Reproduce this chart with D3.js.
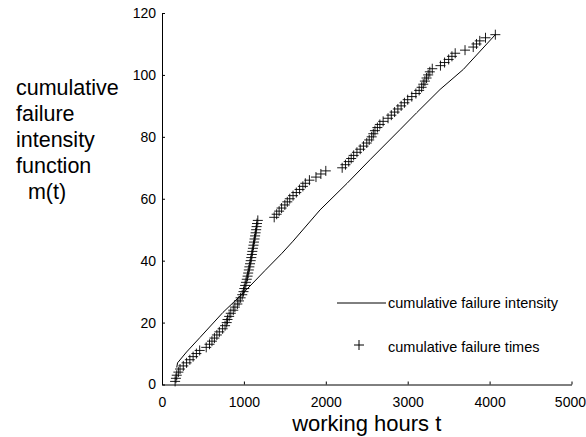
<!DOCTYPE html>
<html>
<head>
<meta charset="utf-8">
<script src="https://cdn.jsdelivr.net/npm/d3@7"></script>
<style>
  body { margin: 0; background: #fff; }
  svg text { font-family: "Liberation Sans", Arial, sans-serif; fill: #000; }
</style>
</head>
<body>
<div id="chart"></div>
<script>
// cumulative failure times (hours) for failure number 1..113
var failureTimes = [
  160, 170, 180, 200, 220, 260, 300, 340, 380, 420,
  460, 540, 580, 610, 640, 670, 700, 740, 770, 790,
  800, 820, 840, 870, 890, 920, 940, 960, 980, 995,
  1005, 1015, 1025, 1035, 1045, 1052, 1060, 1067, 1075, 1083,
  1090, 1097, 1103, 1110, 1117, 1123, 1130, 1137, 1143, 1150,
  1155, 1160, 1170, 1370, 1400, 1430, 1460, 1500, 1530, 1560,
  1600, 1640, 1680, 1720, 1750, 1800, 1880, 1940, 2000, 2200,
  2240, 2280, 2310, 2340, 2380, 2420, 2460, 2500, 2530, 2560,
  2580, 2600, 2630, 2660, 2700, 2760, 2800, 2840, 2880, 2920,
  2960, 3000, 3050, 3100, 3140, 3170, 3190, 3210, 3230, 3250,
  3270, 3300, 3400, 3450, 3500, 3540, 3580, 3700, 3800, 3840,
  3880, 3950, 4070
];
// fitted cumulative failure intensity m(t)
var curveT = [180, 190, 300, 464, 745, 990, 1257, 1465, 1600, 1930, 2260, 2540, 2905, 3110, 3395, 3680, 4070];
var curveM = [5.5, 7, 10.5, 15.2, 23.3, 29.5, 36.8, 42.4, 46.3, 56.4, 65, 72.6, 82.3, 87.8, 95.3, 101.8, 113];

var xTicks = [0, 1000, 2000, 3000, 4000, 5000];
var yTicks = [0, 20, 40, 60, 80, 100, 120];
var yTitle = ["cumulative", "failure", "intensity", "function", "  m(t)"];
var legendLabels = ["cumulative failure intensity", "cumulative failure times"];

var width = 586, height = 437;
var svg = d3.select("#chart").append("svg")
    .attr("width", width)
    .attr("height", height);

var x = d3.scaleLinear().domain([0, 5000]).range([162, 571.5]);
var y = d3.scaleLinear().domain([0, 120]).range([384.5, 13]);

// axes: ticks point inward
var xAxis = svg.append("g")
    .attr("transform", "translate(0," + y(0) + ")")
    .call(d3.axisBottom(x).tickValues(xTicks).tickFormat(d3.format("d"))
      .tickSize(-3).tickPadding(8).tickSizeOuter(0));
var yAxis = svg.append("g")
    .attr("transform", "translate(" + x(0) + ",0)")
    .call(d3.axisLeft(y).tickValues(yTicks).tickFormat(d3.format("d"))
      .tickSize(-3).tickPadding(6).tickSizeOuter(0));

[xAxis, yAxis].forEach(function(a) {
  a.select(".domain").attr("stroke", "#000").attr("stroke-width", 1);
  a.selectAll(".tick line").attr("stroke", "#000");
  a.selectAll(".tick text")
      .style("font-family", "'Liberation Sans', Arial, sans-serif")
      .style("font-size", "14px")
      .attr("fill", "#000");
});
xAxis.selectAll(".tick text").attr("dy", "1em");
// keep the last label inside the window
xAxis.selectAll(".tick text").filter(function(d) { return d === 5000; })
    .attr("text-anchor", "end").attr("dx", "14");

// curve
var line = d3.line()
    .x(function(d) { return x(d[0]); })
    .y(function(d) { return y(d[1]); });
svg.append("path")
    .datum(curveT.map(function(t, i) { return [t, curveM[i]]; }))
    .attr("fill", "none")
    .attr("stroke", "#000")
    .attr("stroke-width", 1)
    .attr("d", line);

// failure points as plus markers
var plus = "M-5,0H5M0,-5V5";
svg.append("g").selectAll("path")
    .data(failureTimes)
    .enter().append("path")
    .attr("transform", function(d, i) { return "translate(" + x(d) + "," + y(i + 1) + ")"; })
    .attr("d", plus)
    .attr("fill", "none")
    .attr("stroke", "#000")
    .attr("stroke-width", 0.9);

// legend
svg.append("line")
    .attr("x1", 337).attr("x2", 386)
    .attr("y1", 303).attr("y2", 303)
    .attr("stroke", "#000");
svg.append("path")
    .attr("transform", "translate(359,345)")
    .attr("d", plus)
    .attr("fill", "none")
    .attr("stroke", "#000");
svg.selectAll(".leg")
    .data(legendLabels)
    .enter().append("text")
    .attr("class", "leg")
    .attr("x", 388)
    .attr("y", function(d, i) { return i === 0 ? 308 : 352; })
    .style("font-size", "14.5px")
    .text(function(d) { return d; });

// axis titles
svg.append("text")
    .attr("x", (x(0) + x(5000)) / 2)
    .attr("y", 431)
    .attr("text-anchor", "middle")
    .style("font-size", "22px")
    .text("working hours t");

svg.append("g").selectAll("text")
    .data(yTitle)
    .enter().append("text")
    .attr("x", 16)
    .attr("y", function(d, i) { return 95 + i * 26; })
    .style("font-size", "21.5px")
    .style("white-space", "pre")
    .attr("xml:space", "preserve")
    .text(function(d) { return d; });
</script>
</body>
</html>
